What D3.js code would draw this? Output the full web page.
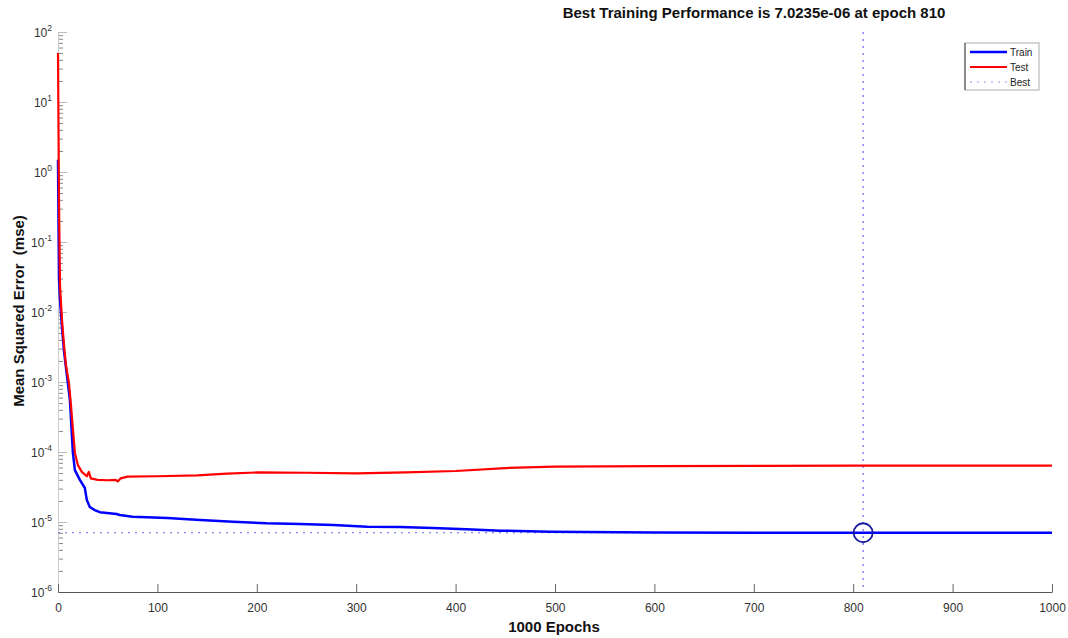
<!DOCTYPE html>
<html>
<head>
<meta charset="utf-8">
<script src="https://cdn.jsdelivr.net/npm/d3@7"></script>
<style>
  html, body { margin: 0; padding: 0; background: #fff; }
  svg { display: block; font-family: "Liberation Sans", Arial, sans-serif; }
</style>
</head>
<body>
<svg id="chart" width="1068" height="638"></svg>
<script>
// ---- Data ----
const trainEpochs = [0, 1, 2, 4, 6, 8, 10, 12, 15, 17, 22, 27, 29, 32, 37, 42, 59, 62, 75, 110, 143, 176, 210, 243, 277, 311, 344, 377, 411, 445, 495, 600, 700, 810, 1000];
const trainValues = [1.5, 0.03, 0.015, 0.006, 0.0028, 0.0016, 9.5e-4, 5.5e-4, 9.7e-5, 5.5e-5, 4.0e-5, 3.06e-5, 2.06e-5, 1.64e-5, 1.48e-5, 1.38e-5, 1.30e-5, 1.26e-5, 1.19e-5, 1.14e-5, 1.07e-5, 1.01e-5, 9.57e-6, 9.36e-6, 9.06e-6, 8.57e-6, 8.49e-6, 8.21e-6, 7.87e-6, 7.52e-6, 7.26e-6, 7.1e-6, 7.05e-6, 7.0235e-6, 7.02e-6];

const testEpochs = [0, 1, 2, 4, 6, 8, 11, 13, 15, 17, 20, 24, 29, 31, 33, 40, 50, 58, 60, 63, 70, 100, 140, 170, 200, 250, 300, 350, 400, 450, 500, 600, 700, 800, 1000];
const testValues = [50, 0.4, 0.024, 0.0077, 0.0034, 0.00175, 9.7e-4, 4.7e-4, 2.1e-4, 9.7e-5, 6.5e-5, 5.2e-5, 4.5e-5, 5.2e-5, 4.2e-5, 4.0e-5, 3.95e-5, 4.0e-5, 3.8e-5, 4.2e-5, 4.45e-5, 4.5e-5, 4.65e-5, 4.9e-5, 5.1e-5, 5.05e-5, 4.95e-5, 5.1e-5, 5.35e-5, 5.9e-5, 6.2e-5, 6.3e-5, 6.35e-5, 6.4e-5, 6.4e-5];

const bestEpoch = 810;
const bestValue = 7.0235e-6;

const xTicks = [0, 100, 200, 300, 400, 500, 600, 700, 800, 900, 1000];
const yExponents = [2, 1, 0, -1, -2, -3, -4, -5, -6];

const titleText = "Best Training Performance is 7.0235e-06 at epoch 810";
const xLabelText = "1000 Epochs";
const yLabelText = "Mean Squared Error  (mse)";
const legendLabels = ["Train", "Test", "Best"];

// ---- Layout ----
const svg = d3.select("#chart");
const plotLeft = 58, plotRight = 1052, plotTop = 32, plotBottom = 592;

const x = d3.scaleLinear().domain([0, 1000]).range([plotLeft, plotRight]);
const y = d3.scaleLog().domain([1e-6, 1e2]).range([plotBottom, plotTop]);

// minor ticks
const minorTicks = [];
for (let e = -6; e < 2; e++) for (let m = 2; m <= 9; m++) minorTicks.push(m * Math.pow(10, e));

// y minor ticks
const yMinor = svg.append("g").attr("transform", `translate(${plotLeft},0)`)
  .call(d3.axisLeft(y).tickValues(minorTicks).tickSize(-5).tickFormat(""));
yMinor.select(".domain").remove();
yMinor.selectAll(".tick line").attr("stroke", "#888").attr("stroke-width", 1);

// y major ticks
const yMajor = svg.append("g").attr("transform", `translate(${plotLeft},0)`)
  .call(d3.axisLeft(y).tickValues(yExponents.map(e => Math.pow(10, e))).tickSize(-9).tickSizeOuter(0).tickFormat(""));
yMajor.select(".domain").attr("stroke", "#ccc");
yMajor.selectAll(".tick line").attr("stroke", "#bbb");

// y labels with superscript
yExponents.forEach(e => {
  const t = svg.append("text")
    .attr("x", 52).attr("y", y(Math.pow(10, e)) + 5)
    .attr("text-anchor", "end")
    .attr("font-size", 12).attr("fill", "#333");
  t.append("tspan").text("10");
  t.append("tspan").attr("dy", -6).attr("font-size", 8.5).text(String(e));
});

// x axis
const xAxis = svg.append("g").attr("transform", `translate(0,${plotBottom})`)
  .call(d3.axisBottom(x).tickValues(xTicks).tickSize(-8).tickSizeOuter(0).tickPadding(11).tickFormat(d3.format("d")));
xAxis.select(".domain").attr("stroke", "#555").attr("stroke-width", 1.2);
xAxis.selectAll(".tick line").attr("stroke", "#666");
xAxis.selectAll(".tick text").attr("font-size", 12).attr("fill", "#333")
  .attr("font-family", "'Liberation Sans', Arial, sans-serif");

// best dotted lines
svg.append("line")
  .attr("x1", x(0)).attr("x2", x(1000)).attr("y1", y(bestValue)).attr("y2", y(bestValue))
  .attr("stroke", "#6a6af0").attr("stroke-width", 1.2).attr("stroke-dasharray", "2,5");
svg.append("line")
  .attr("x1", x(bestEpoch)).attr("x2", x(bestEpoch)).attr("y1", y(1e2)).attr("y2", y(1e-6))
  .attr("stroke", "#6a6af0").attr("stroke-width", 1.2).attr("stroke-dasharray", "2,5");

// lines
const line = d3.line().x(d => x(d[0])).y(d => y(d[1]));
const testData = testEpochs.map((e, i) => [e, testValues[i]]);
const trainData = trainEpochs.map((e, i) => [e, trainValues[i]]);

svg.append("path").datum(trainData).attr("d", line)
  .attr("fill", "none").attr("stroke", "#0000ff").attr("stroke-width", 2.5).attr("stroke-linejoin", "round");
svg.append("path").datum(testData).attr("d", line)
  .attr("fill", "none").attr("stroke", "#ff0000").attr("stroke-width", 2.2).attr("stroke-linejoin", "round");

// best circle
svg.append("circle").attr("cx", x(bestEpoch)).attr("cy", y(bestValue)).attr("r", 9.5)
  .attr("fill", "none").attr("stroke", "#1a1aa0").attr("stroke-width", 1.8);

// title & labels
svg.append("text").attr("x", 754).attr("y", 18).attr("text-anchor", "middle")
  .attr("font-size", 15).attr("font-weight", "bold").attr("fill", "#111").text(titleText);
svg.append("text").attr("x", 554).attr("y", 632).attr("text-anchor", "middle")
  .attr("font-size", 15).attr("font-weight", "bold").attr("fill", "#111").text(xLabelText);
svg.append("text").attr("transform", "translate(24,311) rotate(-90)").attr("text-anchor", "middle")
  .style("white-space", "pre")
  .attr("font-size", 15).attr("font-weight", "bold").attr("fill", "#111").text(yLabelText);

// legend
const lg = svg.append("g");
lg.append("rect").attr("x", 965).attr("y", 43).attr("width", 74).attr("height", 47)
  .attr("fill", "#fff").attr("stroke", "#aaa").attr("stroke-width", 1);
lg.append("line").attr("x1", 965).attr("x2", 965).attr("y1", 43).attr("y2", 90).attr("stroke", "#444");
const legendStyles = [
  { color: "#0000ff", width: 2.5, dash: null },
  { color: "#ff0000", width: 1.8, dash: null },
  { color: "#9a9af5", width: 1.2, dash: "2,5" }
];
legendLabels.forEach((lab, i) => {
  const ly = 52 + i * 15;
  const st = legendStyles[i];
  const l = lg.append("line").attr("x1", 970).attr("x2", 1007).attr("y1", ly).attr("y2", ly)
    .attr("stroke", st.color).attr("stroke-width", st.width);
  if (st.dash) l.attr("stroke-dasharray", st.dash);
  lg.append("text").attr("x", 1010).attr("y", ly + 3.5).attr("font-size", 10).attr("fill", "#222").text(lab);
});
</script>
</body>
</html>
